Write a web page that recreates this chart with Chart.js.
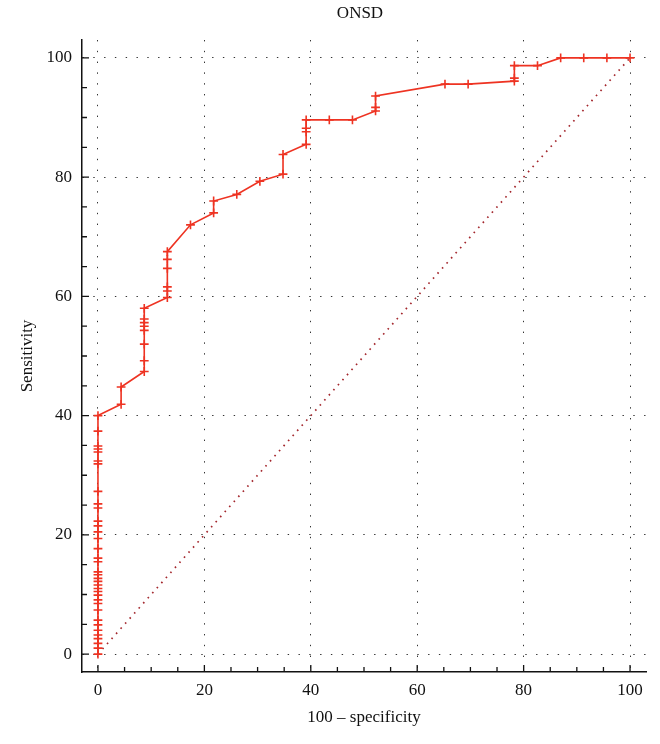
<!DOCTYPE html>
<html>
<head>
<meta charset="utf-8">
<script src="https://cdn.jsdelivr.net/npm/chart.js@4/dist/chart.umd.min.js"></script>
<style>
  html, body { margin: 0; padding: 0; background: #fff; }
  #wrap { width: 660px; height: 744px; }
</style>
</head>
<body>
<div id="wrap"><canvas id="c" width="660" height="744"></canvas></div>
<script>
// ---- data ----
const chartTitle = "ONSD";
const xAxisTitle = "100 \u2013 specificity";
const yAxisTitle = "Sensitivity";
const majorTicks = [0, 20, 40, 60, 80, 100];
const minorTicks = [5, 10, 15, 25, 30, 35, 45, 50, 55, 65, 70, 75, 85, 90, 95];

// ROC curve: 100 - specificity (x) and sensitivity (y)
const rocX = [
  0, 0, 0, 0, 0, 0, 0, 0, 0, 0, 0, 0, 0, 0, 0, 0, 0, 0,
  0, 0, 0, 0, 0, 0, 0, 0, 0, 0, 0, 0, 0, 0, 0, 0, 0, 0,
  4.35, 4.35,
  8.7, 8.7, 8.7, 8.7, 8.7, 8.7, 8.7, 8.7,
  13.04, 13.04, 13.04, 13.04, 13.04, 13.04,
  17.39, 21.74, 21.74, 26.09, 30.43, 34.78, 34.78,
  39.13, 39.13, 39.13, 39.13, 43.48, 47.83,
  52.17, 52.17, 52.17, 65.22, 69.57,
  78.26, 78.26, 78.26, 82.61, 86.96, 91.30, 95.65, 100
];
const rocY = [
  0, 1.0, 1.8, 2.6, 3.2, 4.0, 4.9, 5.7, 7.4, 8.5, 9.1, 9.9, 10.5, 11.0, 11.6, 12.2, 12.7, 13.3,
  13.8, 15.5, 16.1, 17.7, 19.4, 20.5, 21.5, 22.3, 24.5, 25.2, 27.3, 31.9, 32.4, 33.9, 34.4, 34.9, 37.4, 40.0,
  41.9, 44.8,
  47.4, 49.2, 52.0, 54.3, 55.0, 55.6, 56.2, 58.0,
  59.8, 60.9, 61.6, 64.7, 66.2, 67.5,
  72.0, 74.0, 76.0, 77.1, 79.3, 80.5, 83.8,
  85.5, 87.6, 88.2, 89.6, 89.6, 89.6,
  91.1, 91.7, 93.6, 95.6, 95.6,
  96.1, 96.6, 98.7, 98.7, 100, 100, 100, 100
];
// reference diagonal
const diagX = [0, 100];
const diagY = [0, 100];

// ---- chart ----
const SERIF = "'Liberation Serif', 'DejaVu Serif', serif";

const inwardTicks = {
  id: 'inwardTicks',
  afterDraw(chart) {
    const ctx = chart.ctx;
    const xs = chart.scales.x, ys = chart.scales.y;
    const a = chart.chartArea;
    ctx.save();
    ctx.strokeStyle = '#111';
    ctx.lineWidth = 1.3;
    ctx.setLineDash([]);
    ctx.beginPath();
    const draw = (vals, len) => {
      vals.forEach(v => {
        const px = xs.getPixelForValue(v);
        ctx.moveTo(px, a.bottom);
        ctx.lineTo(px, a.bottom - len);
        const py = ys.getPixelForValue(v);
        ctx.moveTo(a.left, py);
        ctx.lineTo(a.left + len, py);
      });
    };
    draw(majorTicks, 7);
    draw(minorTicks, 5);
    ctx.stroke();
    // title centred over the plot area
    ctx.fillStyle = '#111';
    ctx.font = "17px " + SERIF;
    ctx.textAlign = 'center';
    ctx.textBaseline = 'middle';
    ctx.fillText(chartTitle, (a.left + a.right) / 2 - 4, 14);
    ctx.restore();
  }
};

const gridCfg = {
  color: '#333',
  lineWidth: 1,
  drawTicks: false,
  drawOnChartArea: true
};
const borderCfg = { display: true, color: '#111', width: 1.5, dash: [1.4, 9.4] };

new Chart(document.getElementById('c'), {
  type: 'scatter',
  data: {
    datasets: [
      {
        label: 'ROC',
        data: rocX.map((x, i) => ({ x: x, y: rocY[i] })),
        showLine: true,
        borderColor: '#ee3322',
        backgroundColor: '#ee3322',
        borderWidth: 1.6,
        pointStyle: 'cross',
        pointRadius: 4.4,
        pointBorderWidth: 1.6,
        tension: 0,
        order: 1
      },
      {
        label: 'diag',
        data: diagX.map((x, i) => ({ x: x, y: diagY[i] })),
        showLine: true,
        borderColor: '#a3262c',
        borderWidth: 1.7,
        borderDash: [1.6, 5.2],
        pointRadius: 0,
        order: 2
      }
    ]
  },
  options: {
    responsive: false,
    animation: false,
    devicePixelRatio: 1,
    layout: { padding: { left: 0, right: 14, top: 40, bottom: 0 } },
    plugins: {
      legend: { display: false },
      tooltip: { enabled: false },
      title: { display: false }
    },
    scales: {
      x: {
        type: 'linear',
        min: -3,
        max: 103,
        afterBuildTicks: s => { s.ticks = majorTicks.map(v => ({ value: v })); },
        afterFit: s => { s.height = 72; },
        grid: gridCfg,
        border: borderCfg,
        ticks: {
          color: '#111',
          padding: 8,
          maxRotation: 0,
          font: { family: SERIF, size: 17 }
        },
        title: {
          display: true,
          text: xAxisTitle,
          color: '#111',
          font: { family: SERIF, size: 17 },
          padding: { top: 0, bottom: 16 }
        }
      },
      y: {
        type: 'linear',
        min: -3,
        max: 103,
        afterBuildTicks: s => { s.ticks = majorTicks.map(v => ({ value: v })); },
        afterFit: s => { s.width = 82; },
        grid: gridCfg,
        border: borderCfg,
        ticks: {
          color: '#111',
          padding: 10,
          font: { family: SERIF, size: 17 }
        },
        title: {
          display: true,
          text: yAxisTitle,
          color: '#111',
          font: { family: SERIF, size: 17 },
          padding: { top: 17, bottom: 0 }
        }
      }
    }
  },
  plugins: [inwardTicks]
});
</script>
</body>
</html>
